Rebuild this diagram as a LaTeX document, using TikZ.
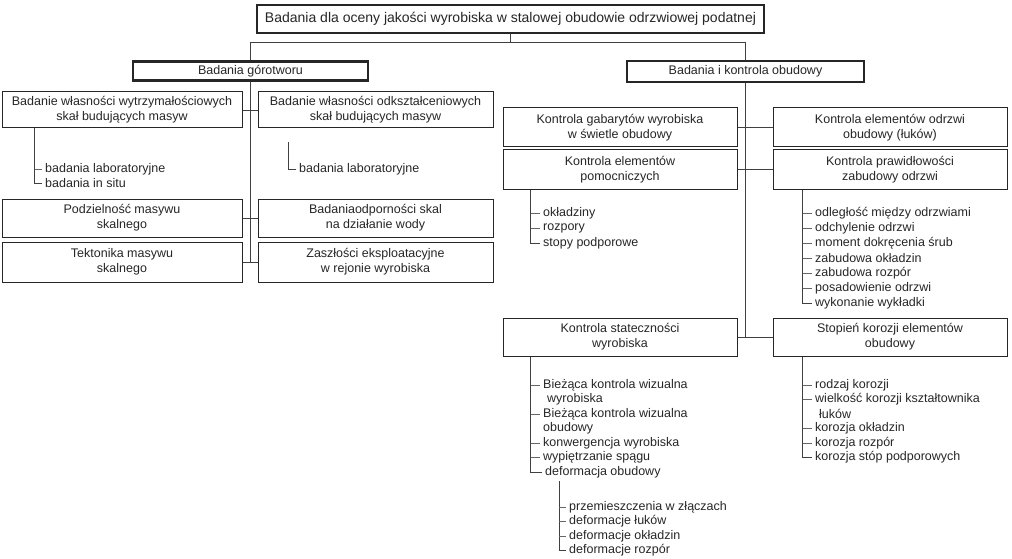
\documentclass[tikz,border=0pt]{standalone}
\usepackage{fontspec}
\setmainfont{Liberation Sans}

\tikzset{
  box/.style={draw=black!85, line width=1pt, fill=white, text=black!85, align=center,
    inner sep=0pt, minimum width=234pt, minimum height=39pt, font=\fontsize{12.5}{15}\selectfont},
  headbox/.style={box, line width=2.2pt, minimum height=20pt},
  trunk/.style={draw=black!75, line width=0.7pt},
  tick/.style={draw=black!60, line width=0.6pt},
  leaf/.style={anchor=west, inner sep=0pt, text=black!85, font=\fontsize{12.5}{14.5}\selectfont}
}

\begin{document}
\begin{tikzpicture}[x=1pt,y=-1pt]
    \useasboundingbox (0,0) rectangle (1012,559);

    % Top levels
    \node[headbox, minimum width=507pt, minimum height=28pt, font=\fontsize{14}{16}\selectfont] (title) at (510.5,19)
        {Badania dla oceny jakości wyrobiska w stalowej obudowie odrzwiowej podatnej};
    \node[headbox, minimum width=235pt, minimum height=19pt] (gor) at (250.5,71) {Badania górotworu};
    \node[headbox, minimum width=237pt, minimum height=21pt] (obu) at (745.5,71.5) {Badania i kontrola obudowy};

    \draw[trunk] (title.south) -- ++(0,8) coordinate (split);
    \draw[trunk] (gor.north) |- (split) -| (obu.north);

    % Left branch
    \node[box, minimum width=240pt, minimum height=36pt] (wytrz) at (122,110) {Badanie własności wytrzymałościowych\\skał budujących masyw};
    \node[box, minimum width=235pt, minimum height=36pt] (odksz) at (375.5,110) {Badanie własności odkształceniowych\\skał budujących masyw};
    \node[box, minimum width=240pt, minimum height=38pt] (podz) at (122,218) {Podzielność masywu\\skalnego};
    \node[box, minimum width=235pt, minimum height=38pt] (wody) at (375.5,218) {Badaniaodporności skal\\na działanie wody};
    \node[box, minimum width=240pt, minimum height=40pt] (tekt) at (122,262) {Tektonika masywu\\skalnego};
    \node[box, minimum width=235pt, minimum height=40pt] (zaszl) at (375.5,262) {Zaszłości eksploatacyjne\\w rejonie wyrobiska};

    \draw[trunk] (gor.south) -- (gor.south |- tekt.east);
    \foreach \a/\b in {wytrz/odksz, podz/wody, tekt/zaszl} \draw[trunk] (\a.east) -- (\b.west);

    % Items under the strength tests
    \foreach \t [count=\i] in {badania laboratoryjne, badania in situ}
        \node[leaf] (wy\i) at (45,154.5+14.5*\i) {\t};
    \coordinate (wyv) at ([xshift=33pt]wytrz.south west);
    \draw[trunk] (wyv) |- ([xshift=-3pt]wy2.west);
    \draw[tick] (wyv |- wy1.west) -- ([xshift=-3pt]wy1.west);

    \node[leaf] (od1) at (299,169) {badania laboratoryjne};
    \coordinate (odv) at (288,142);
    \draw[trunk] (odv) |- ([xshift=-3pt]od1.west);

    % Right branch
    \node[box] (gab) at (620,127.5) {Kontrola gabarytów wyrobiska\\w świetle obudowy};
    \node[box] (odrz) at (890,127.5) {Kontrola elementów odrzwi\\obudowy (łuków)};
    \node[box] (pomoc) at (620,169.5) {Kontrola elementów\\pomocniczych};
    \node[box] (zab) at (890,169.5) {Kontrola prawidłowości\\zabudowy odrzwi};
    \node[box, minimum height=38pt] (stat) at (620,337) {Kontrola stateczności\\wyrobiska};
    \node[box, minimum height=38pt] (koroz) at (890,337) {Stopień korozji elementów\\obudowy};

    \draw[trunk] (obu.south) -- (obu.south |- stat.east);
    \foreach \a/\b in {gab/odrz, pomoc/zab, stat/koroz} \draw[trunk] (\a.east) -- (\b.west);

    % Auxiliary elements
    \foreach \t [count=\i] in {okładziny, rozpory, stopy podporowe}
        \node[leaf] (pm\i) at (543,198+15*\i) {\t};
    \coordinate (pmv) at ([xshift=28pt]pomoc.south west);
    \draw[trunk] (pmv) |- ([xshift=-3pt]pm3.west);
    \foreach \i in {1,2} \draw[tick] (pmv |- pm\i.west) -- ([xshift=-3pt]pm\i.west);

    % Frame installation
    \foreach \t [count=\i] in {odległość między odrzwiami, odchylenie odrzwi, moment dokręcenia śrub,
        zabudowa okładzin, zabudowa rozpór, posadowienie odrzwi, wykonanie wykładki}
        \node[leaf] (zb\i) at (815,198+15*\i) {\t};
    \coordinate (zbv) at ([xshift=30pt]zab.south west);
    \draw[trunk] (zbv) |- ([xshift=-3pt]zb7.west);
    \foreach \i in {1,...,6} \draw[tick] (zbv |- zb\i.west) -- ([xshift=-3pt]zb\i.west);

    % Stability of the excavation
    \node[leaf] (st1) at (543,385) {Bieżąca kontrola wizualna};
    \node[leaf] (st1b) at (547,399.5) {wyrobiska};
    \node[leaf] (st2) at (543,414) {Bieżąca kontrola wizualna};
    \node[leaf] (st2b) at (543,428.5) {obudowy};
    \node[leaf] (st3) at (543,443) {konwergencja wyrobiska};
    \node[leaf] (st4) at (543,457.5) {wypiętrzanie spągu};
    \node[leaf] (st5) at (545,472) {deformacja obudowy};
    \coordinate (stv) at ([xshift=28pt]stat.south west);
    \draw[trunk] (stv) |- ([xshift=-3pt]st5.west);
    \foreach \i in {1,...,4} \draw[tick] (stv |- st\i.west) -- ([xshift=-3pt]st\i.west);

    \foreach \t [count=\i] in {przemieszczenia w złączach, deformacje łuków, deformacje okładzin, deformacje rozpór}
        \node[leaf] (df\i) at (569,492.5+14.5*\i) {\t};
    \coordinate (dfv) at ([xshift=14pt,yshift=-3pt]st5.south west);
    \draw[trunk] (dfv) |- ([xshift=-3pt]df4.west);
    \foreach \i in {1,2,3} \draw[tick] (dfv |- df\i.west) -- ([xshift=-3pt]df\i.west);

    % Corrosion
    \node[leaf] (kr1) at (815,385) {rodzaj korozji};
    \node[leaf] (kr2) at (815,399.5) {wielkość korozji kształtownika};
    \node[leaf] (kr2b) at (819,414) {łuków};
    \node[leaf] (kr3) at (815,428.5) {korozja okładzin};
    \node[leaf] (kr4) at (815,443) {korozja rozpór};
    \node[leaf] (kr5) at (815,457.5) {korozja stóp podporowych};
    \coordinate (krv) at ([xshift=30pt]koroz.south west);
    \draw[trunk] (krv) |- ([xshift=-3pt]kr5.west);
    \foreach \i in {1,...,4} \draw[tick] (krv |- kr\i.west) -- ([xshift=-3pt]kr\i.west);
\end{tikzpicture}
\end{document}
